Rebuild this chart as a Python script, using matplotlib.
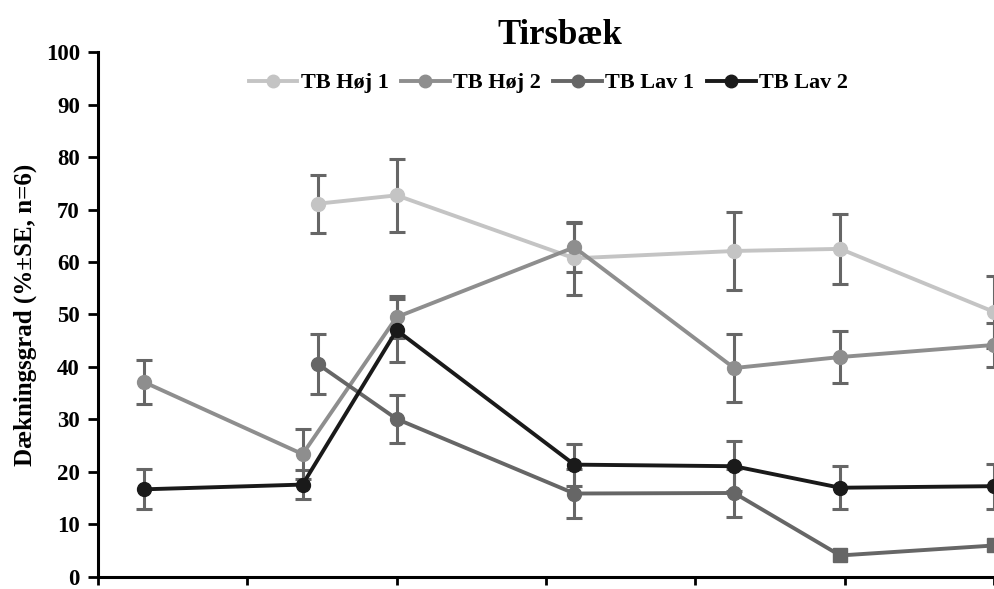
import matplotlib.pyplot as plt
import numpy as np

plt.rcParams['font.family'] = ['Liberation Serif', 'DejaVu Serif']
plt.rcParams['font.weight'] = 'bold'

# sampling positions (in tick units) and cover values (%), +/- SE
hoj1_x = [1.47, 2.0, 3.19, 4.26, 4.97, 6.0]
hoj1_y = [71.1, 72.7, 60.7, 62.1, 62.5, 50.5]
hoj1_se = [5.5, 7.0, 7.0, 7.4, 6.6, 6.8]

hoj2_x = [0.31, 1.37, 2.0, 3.19, 4.26, 4.97, 6.0]
hoj2_y = [37.1, 23.4, 49.5, 62.8, 39.8, 41.9, 44.2]
hoj2_se = [4.2, 4.7, 4.0, 4.7, 6.4, 5.0, 4.2]

lav1_x = [1.47, 2.0, 3.19, 4.26, 4.97, 6.0]
lav1_y = [40.6, 30.1, 15.9, 16.0, 4.1, 6.0]
lav1_se = [5.7, 4.5, 4.6, 4.6, 0.0, 0.0]

lav2_x = [0.31, 1.37, 2.0, 3.19, 4.26, 4.97, 6.0]
lav2_y = [16.7, 17.6, 47.0, 21.4, 21.1, 17.0, 17.3]
lav2_se = [3.8, 2.8, 6.0, 4.0, 4.8, 4.1, 4.3]

fig = plt.figure(figsize=(9.95, 5.89), dpi=100)
ax = fig.add_axes([0.0985, 0.0204, 0.905, 0.8913])

err_kw = dict(ecolor='#666666', elinewidth=2.2, capsize=6, capthick=2.2, zorder=2)

ax.errorbar(hoj1_x, hoj1_y, yerr=hoj1_se, fmt='none', **err_kw)
ax.plot(hoj1_x, hoj1_y, '-o', color='#c4c4c4', lw=2.8, ms=10, label='TB Høj 1', zorder=3)

ax.errorbar(hoj2_x, hoj2_y, yerr=hoj2_se, fmt='none', **err_kw)
ax.plot(hoj2_x, hoj2_y, '-o', color='#8e8e8e', lw=2.8, ms=10, label='TB Høj 2', zorder=3)

ax.errorbar(lav1_x[:4], lav1_y[:4], yerr=lav1_se[:4], fmt='none', **err_kw)
ax.plot(lav1_x, lav1_y, '-o', color='#666666', lw=2.8, ms=10, markevery=[0, 1, 2, 3],
        label='TB Lav 1', zorder=3)
ax.plot(lav1_x[4:], lav1_y[4:], 's', color='#666666', ms=10, zorder=3)

ax.errorbar(lav2_x, lav2_y, yerr=lav2_se, fmt='none', **err_kw)
ax.plot(lav2_x, lav2_y, '-o', color='#1a1a1a', lw=2.8, ms=10, label='TB Lav 2', zorder=4)

ax.set_xlim(0, 6.03)
ax.set_ylim(0, 100)
ax.set_xticks(np.arange(0, 7))
ax.set_xticklabels([])
ax.set_yticks(np.arange(0, 101, 10))
ax.tick_params(axis='y', labelsize=16.5, width=2, length=7, pad=6)
ax.tick_params(axis='x', width=2, length=6)
for s in ['top', 'right']:
    ax.spines[s].set_visible(False)
for s in ['left', 'bottom']:
    ax.spines[s].set_linewidth(2.2)

ax.set_ylabel('Dækningsgrad (%±SE, n=6)', fontsize=18, fontweight='bold', labelpad=6)

fig.text(0.563, 0.94, 'Tirsbæk', ha='center', va='center', fontsize=25, fontweight='bold')
fig.legend(loc='center', bbox_to_anchor=(0.551, 0.859), ncol=4, frameon=False,
           fontsize=16, handlelength=2.2, handletextpad=0.15, columnspacing=0.55,
           markerscale=0.9)

fig.savefig('out.png', dpi=100)
